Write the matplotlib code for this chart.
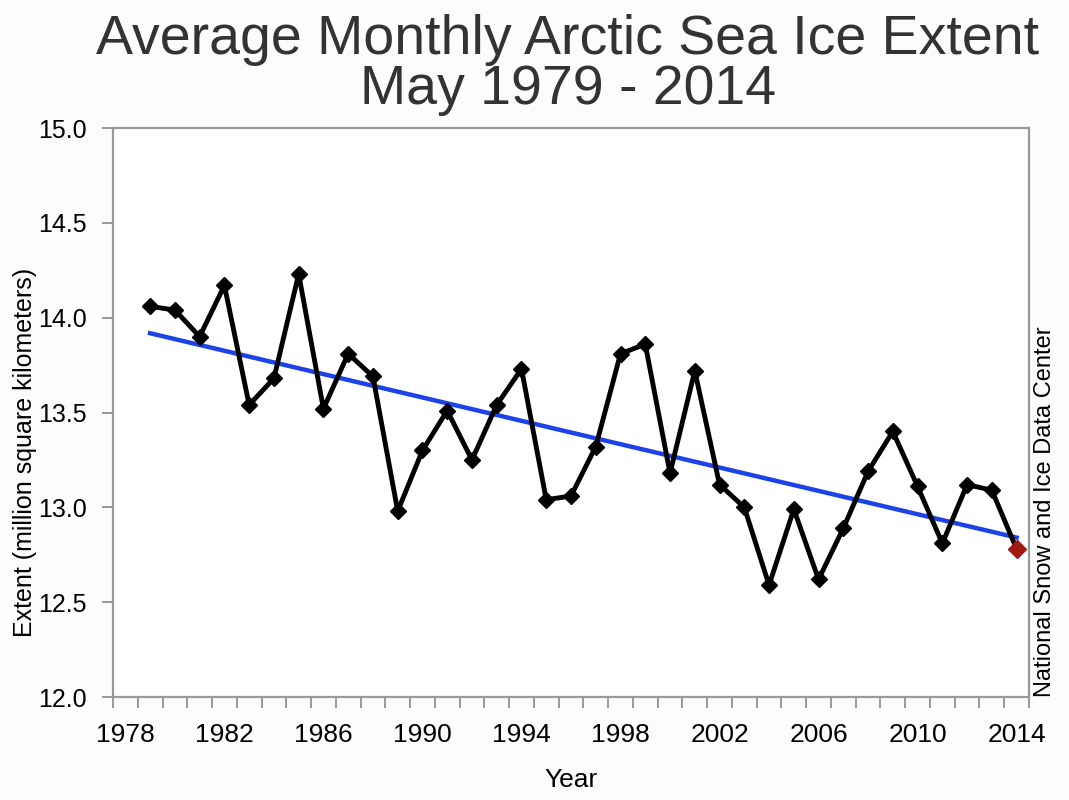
import numpy as np
import matplotlib
matplotlib.use("Agg")
import matplotlib.pyplot as plt
from matplotlib.ticker import MultipleLocator

plt.rcParams['font.family'] = ['Liberation Sans', 'DejaVu Sans']

years = list(range(1979, 2015))
extent = [14.06, 14.04, 13.90, 14.17, 13.54, 13.68, 14.23, 13.52, 13.81, 13.69,
          12.98, 13.30, 13.51, 13.25, 13.54, 13.73, 13.04, 13.06, 13.32, 13.81,
          13.86, 13.18, 13.72, 13.12, 13.00, 12.59, 12.99, 12.62, 12.89, 13.19,
          13.40, 13.11, 12.81, 13.12, 13.09, 12.78]
year_labels = list(range(1978, 2015, 4))

x = np.array(years)
y = np.array(extent)
slope, icpt = np.polyfit(x, y, 1)

fig = plt.figure(figsize=(10.69, 8), dpi=100)
fig.patch.set_facecolor('#fcfcfc')
ax = fig.add_axes([113/1069, 1 - 697/800, (1029-113)/1069, (697-128)/800])

ax.plot(x, y, color='black', lw=3.5, marker='D', ms=8, zorder=3)
ax.plot(x[-1], y[-1], marker='D', ms=9, color='#a01a10', zorder=4, ls='none')
ax.plot(x, slope * x + icpt, color='#1b43e8', lw=3.2, zorder=2)

ax.set_xlim(1977.5, 2014.5)
ax.set_ylim(12.0, 15.0)
ax.set_xticks(year_labels)
ax.set_xticklabels([str(v) for v in year_labels])
ax.xaxis.set_minor_locator(MultipleLocator(1, offset=0.5))
ax.tick_params(axis='x', which='major', length=0, pad=19, labelsize=19)
ax.tick_params(axis='x', which='minor', length=8, color='#888888', width=1.2)
ax.set_yticks(np.arange(12.0, 15.01, 0.5))
ax.set_yticklabels([f"{v:.1f}" for v in np.arange(12.0, 15.01, 0.5)])
ax.tick_params(axis='y', length=8, color='#888888', width=1.2, labelsize=18, pad=11)
for s in ax.spines.values():
    s.set_color('#999999')
    s.set_linewidth(1.6)

ax.set_xlabel('Year', fontsize=19, labelpad=15)

fig.text(25/1069, 1 - 452/800, 'Extent (million square kilometers)',
         rotation=90, ha='center', va='center', fontsize=18)
fig.text(568/1069, 1 - 40/800, 'Average Monthly Arctic Sea Ice Extent',
         ha='center', va='center', fontsize=40, color='#333333')
fig.text(568/1069, 1 - 90/800, 'May 1979 - 2014',
         ha='center', va='center', fontsize=40, color='#333333')
fig.text(1045/1069, 1 - 512/800, 'National Snow and Ice Data Center',
         rotation=90, ha='center', va='center', fontsize=17, color='black')

fig.savefig('out.png', dpi=100, facecolor=fig.get_facecolor())
